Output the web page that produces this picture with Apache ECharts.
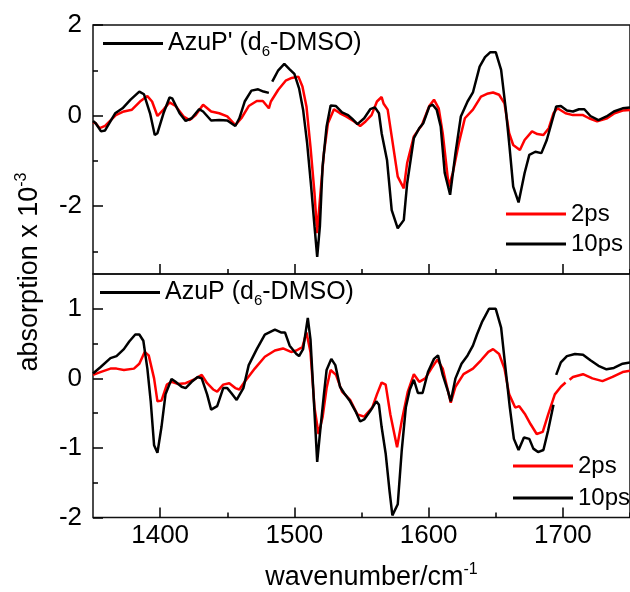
<!DOCTYPE html>
<html>
<head>
<meta charset="utf-8">
<script src="https://cdn.jsdelivr.net/npm/echarts@6/dist/echarts.min.js"></script>
<style>
html,body{margin:0;padding:0;background:#fff;}
#c{width:630px;height:592px;}
</style>
</head>
<body>
<div id="c"></div>
<script>
// ---- data (wavenumber, absorption x 1e-3) ----
const top2ps = [
[1350,-0.15],[1352,-0.17],[1355,-0.28],[1359,-0.23],[1367,0.01],[1373,0.09],[1379,0.13],[1385,0.31],[1390.5,0.43],[1394,0.31],
[1398,-0.01],[1402.5,0.13],[1407,0.29],[1411.5,0.21],[1417.5,-0.02],[1422,-0.10],[1426.5,0.01],[1432,0.24],[1438,0.09],[1444,0.05],
[1450,-0.02],[1456,-0.21],[1460.5,-0.06],[1466,0.21],[1472,0.32],[1476.5,0.32],[1481,0.16],[1482.5,0.31],[1488,0.57],[1493.5,0.77],
[1498,0.83],[1503,0.86],[1506,0.64],[1509,0.20],[1512,-0.69],[1515,-1.72],[1517,-2.6],[1519,-1.86],[1522,-0.83],[1525,-0.17],
[1529.5,0.14],[1534,0.05],[1538.5,-0.02],[1544.5,-0.13],[1549,-0.23],[1553,-0.13],[1557.5,0.01],[1561.5,0.31],[1565,0.41],[1566.5,0.26],
[1569.5,0.13],[1572.5,-0.46],[1577,-1.35],[1581.5,-1.61],[1584,-1.05],[1589,-0.46],[1595,-0.21],[1600.5,0.21],[1604,0.35],[1607.5,0.16],
[1610.5,-0.39],[1615,-1.57],[1618,-1.27],[1622.5,-0.61],[1627,-0.06],[1633,0.13],[1639,0.42],[1643.5,0.48],[1648,0.51],[1652.5,0.46],
[1656.5,0.27],[1660,-0.39],[1663,-0.65],[1668,-0.76],[1671.5,-0.54],[1677,-0.35],[1681,-0.41],[1685.5,-0.43],[1689.5,-0.28],[1693,0.05],
[1696,0.16],[1702,0.05],[1707.5,0.01],[1715,0.01],[1719.5,-0.06],[1725.5,-0.13],[1733,-0.06],[1738.5,0.05],[1744.5,0.11],[1750,0.12]
];
const top10ps = [
[1350,-0.12],[1352,-0.17],[1356,-0.35],[1359,-0.33],[1366.5,0.05],[1372,0.16],[1378,0.35],[1384.5,0.53],[1388,0.47],[1392.5,0.05],
[1396,-0.43],[1398,-0.39],[1402.5,0.05],[1407,0.40],[1409,0.38],[1414.5,0.05],[1419,-0.12],[1423.5,-0.06],[1429,0.14],[1432,0.09],
[1438,-0.11],[1444,-0.10],[1450,-0.11],[1456,-0.23],[1459,-0.06],[1463,0.31],[1468,0.55],[1473,0.58],[1477,0.53],[1481,0.50],
[1482,'-'],[1483.5,0.75],[1488,1.0],[1492.5,1.14],[1496.5,1.02],[1500,0.92],[1503.5,0.60],[1506.5,0.13],[1509.5,-0.61],[1512.5,-1.57],
[1515,-2.45],[1517,-3.12],[1519,-2.45],[1521,-1.13],[1524,-0.24],[1527,0.22],[1531,0.21],[1535.5,0.07],[1540,0.01],[1543,-0.07],
[1547,-0.19],[1552,-0.06],[1556.5,0.14],[1560,0.18],[1563,0.05],[1565,-0.39],[1569,-0.98],[1572.5,-2.09],[1577,-2.49],[1581.5,-2.31],
[1584,-1.50],[1589,-0.50],[1593,-0.28],[1596,-0.17],[1600.5,0.20],[1603,0.24],[1606,0.13],[1609,-0.24],[1612,-1.27],[1616,-1.75],
[1620,-0.83],[1624,-0.02],[1629,0.31],[1633,0.51],[1638,1.08],[1642,1.29],[1646,1.40],[1650,1.40],[1654,1.01],[1657.5,0.13],
[1660,-0.61],[1663,-1.57],[1667,-1.92],[1671.5,-1.27],[1675,-0.87],[1679.5,-0.80],[1684,-0.83],[1688,-0.54],[1691.5,-0.17],[1695,0.20],
[1698.5,0.21],[1703,0.11],[1707.5,0.09],[1712,0.14],[1716,0.14],[1720.5,-0.01],[1726.5,-0.10],[1732.5,-0.02],[1738,0.09],[1744.5,0.16],[1750,0.18]
];
const bot2ps = [
[1350,0.05],[1355.5,0.09],[1363,0.14],[1367.5,0.14],[1373,0.12],[1380.5,0.14],[1384.5,0.21],[1388.5,0.38],[1391.5,0.33],[1395.5,0.0],
[1398,-0.33],[1401,-0.32],[1405,-0.09],[1408.5,-0.05],[1413,-0.08],[1419,-0.07],[1425,-0.02],[1431,0.05],[1435,-0.07],[1439.5,-0.16],
[1442.5,-0.19],[1447,-0.09],[1451.5,-0.07],[1456,-0.14],[1459,-0.16],[1463,-0.05],[1470.5,0.14],[1478,0.31],[1485.5,0.40],[1491.5,0.43],
[1497.5,0.38],[1501.5,0.40],[1506,0.45],[1509,0.66],[1512,0.38],[1515,-0.42],[1518,-0.80],[1521,-0.56],[1524,-0.14],[1527,0.12],
[1531,0.05],[1535.5,-0.19],[1541.5,-0.31],[1547,-0.52],[1552,-0.55],[1558,-0.42],[1561.5,-0.23],[1565,-0.06],[1568,-0.09],[1571.5,-0.52],
[1576.5,-0.99],[1580,-0.61],[1584.5,-0.19],[1589,0.06],[1593,-0.05],[1597.5,0.0],[1602,0.14],[1606.5,0.27],[1610.5,0.14],[1616.5,-0.35],
[1620,-0.12],[1626,0.06],[1633,0.14],[1639,0.26],[1644.5,0.38],[1648,0.42],[1652.5,0.35],[1656.5,0.14],[1660,-0.23],[1664.5,-0.42],
[1667.5,-0.40],[1672,-0.52],[1676,-0.66],[1680.5,-0.80],[1685,-0.77],[1689,-0.52],[1694,-0.23],[1698.5,-0.12],[1702,-0.06],[1703.5,'-'],
[1705,-0.02],[1707.5,0.02],[1715,0.06],[1722,0.0],[1729.5,-0.04],[1737,0.02],[1744.5,0.09],[1750,0.11]
];
const bot10ps = [
[1350,0.07],[1355.5,0.16],[1363,0.29],[1367.5,0.32],[1373,0.42],[1377,0.53],[1381.5,0.63],[1384.5,0.63],[1387.5,0.54],[1390.5,0.14],
[1393,-0.33],[1395.5,-0.96],[1398,-1.07],[1401,-0.70],[1404,-0.23],[1408.5,-0.01],[1411.5,-0.05],[1416,-0.12],[1419,-0.14],[1423.5,-0.05],
[1428,0.02],[1431,0.0],[1435,-0.23],[1438,-0.45],[1442.5,-0.40],[1447,-0.14],[1450,-0.14],[1453,-0.21],[1457,-0.31],[1462,-0.14],
[1466,0.19],[1472,0.42],[1478,0.63],[1485.5,0.70],[1490,0.66],[1493,0.66],[1496.5,0.47],[1501.5,0.35],[1503.5,0.32],[1506.5,0.42],
[1510,0.87],[1512,0.56],[1514,-0.14],[1517,-1.20],[1519,-0.80],[1522,-0.23],[1524,0.12],[1527.5,0.28],[1530.5,0.19],[1534,-0.12],
[1537,-0.21],[1541.5,-0.33],[1546,-0.49],[1549,-0.62],[1552,-0.59],[1556.5,-0.47],[1561,-0.33],[1563,-0.38],[1565,-0.70],[1568,-1.08],
[1571,-1.64],[1573,-1.97],[1577,-1.81],[1580,-1.03],[1583,-0.42],[1586,-0.16],[1589,-0.02],[1592,-0.21],[1595.5,-0.21],[1599.5,0.09],
[1604,0.28],[1607,0.33],[1610.5,0.05],[1614.5,-0.19],[1616.5,-0.33],[1620,0.0],[1624.5,0.21],[1629,0.33],[1633,0.47],[1636,0.63],
[1640,0.82],[1642,0.89],[1645,1.0],[1650,1.0],[1654,0.73],[1657,0.19],[1660.5,-0.42],[1663.5,-0.87],[1667,-1.03],[1671,-0.85],
[1675,-0.87],[1678,-1.01],[1681.5,-1.06],[1685.5,-1.03],[1689,-0.75],[1693,-0.38],[1694,'-'],[1695,0.05],[1698.5,0.23],[1703,0.32],
[1709,0.35],[1715,0.34],[1720.5,0.26],[1726.5,0.18],[1732.5,0.13],[1738,0.15],[1744.5,0.21],[1750,0.23]
];
const xMajor = [1400,1500,1600,1700];
const xMinor = [1450,1550,1650,1750];
const yTopMajor = [-2,0,2];
const yTopMinor = [-3,-1,1];
const yBotMajor = [-2,-1,0,1];
const yBotMinor = [-1.5,-0.5,0.5];
const topLabel = "AzuP' (d6-DMSO)";
const botLabel = "AzuP (d6-DMSO)";

// ---- chart ----
const FONT = 'Liberation Sans, Arial, sans-serif';
const RED = '#ff0000', BLK = '#000000';
const chart = echarts.init(document.getElementById('c'), null, {renderer:'canvas'});

function xAx(grid, ticks, len, labels, extra){
  return Object.assign({
    type:'value', gridIndex:grid, min:1350, max:1750, position:'bottom',
    axisLine:{show:false, onZero:false},
    splitLine:{show:false},
    axisTick:{show:true, inside:true, length:len, customValues:ticks, lineStyle:{color:BLK, width:1.5}},
    axisLabel: labels ? {show:true, customValues:labels, fontSize:26, color:BLK, fontFamily:FONT, margin:5,
      formatter:function(v){return String(v);}} : {show:false}
  }, extra||{});
}
function yAx(grid, mn, mx, ticks, len, labels){
  return {
    type:'value', gridIndex:grid, min:mn, max:mx, position:'left',
    axisLine:{show:false, onZero:false},
    splitLine:{show:false},
    axisTick:{show:true, inside:true, length:len, customValues:ticks, lineStyle:{color:BLK, width:1.5}},
    axisLabel: labels ? {show:true, customValues:labels, fontSize:26, color:BLK, fontFamily:FONT, margin:11,
      formatter:function(v){return String(v);}} : {show:false}
  };
}
const richLeg = {
  n:{fontSize:25, fontFamily:FONT, color:BLK, lineHeight:32},
  s:{fontSize:15, fontFamily:FONT, color:BLK, lineHeight:15, verticalAlign:'bottom'}
};
function legFmt(name){
  if(name.indexOf('(d6')>=0){
    const parts = name.split('d6');
    return '{n|'+parts[0]+'d}{s|6}{n|'+parts[1]+'}';
  }
  return name;
}
function line(name, data, color, xi, yi){
  return {name:name, type:'line', data:data, xAxisIndex:xi, yAxisIndex:yi,
    showSymbol:false, symbol:'none', smooth:false, connectNulls:false,
    lineStyle:{color:color, width:2.5}, itemStyle:{color:color}, z:color===RED?2:3};
}

const option = {
  backgroundColor:'#fff',
  animation:false,
  grid:[
    {left:93, top:25, width:545, height:249, show:true, borderColor:'#111', borderWidth:1.5, backgroundColor:'transparent'},
    {left:93, top:274, width:545, height:248, show:true, borderColor:'#111', borderWidth:1.5, backgroundColor:'transparent'}
  ],
  xAxis:[
    xAx(0, xMajor, 10, null),
    xAx(0, xMinor, 5, null),
    xAx(1, xMajor, 10, xMajor, {
      name:'{n|wavenumber/cm}{s|-1}', nameLocation:'middle', nameGap:44,
      nameTextStyle:{padding:[0,0,0,20], rich:{
        n:{fontSize:27, fontFamily:FONT, color:BLK, lineHeight:32},
        s:{fontSize:16, fontFamily:FONT, color:BLK, lineHeight:16, verticalAlign:'top'}
      }}
    }),
    xAx(1, xMinor, 5, null)
  ],
  yAxis:[
    yAx(0, -3.5, 2, yTopMajor, 10, yTopMajor),
    yAx(0, -3.5, 2, yTopMinor, 5, null),
    yAx(1, -2, 1.5, yBotMajor, 10, yBotMajor),
    yAx(1, -2, 1.5, yBotMinor, 5, null)
  ],
  legend:[
    {data:[topLabel], left:98, top:26, orient:'horizontal', itemWidth:60, itemHeight:3, icon:'rect',
      formatter:legFmt, textStyle:{rich:richLeg}, selectedMode:false},
    {data:[botLabel], left:95, top:275, orient:'horizontal', itemWidth:60, itemHeight:3, icon:'rect',
      formatter:legFmt, textStyle:{rich:richLeg}, selectedMode:false},
    {data:['2ps','10ps'], left:501, top:195, orient:'vertical', itemWidth:60, itemHeight:3, icon:'rect', itemGap:2,
      textStyle:{fontSize:24, fontFamily:FONT, color:BLK, lineHeight:28}, selectedMode:false},
    {data:['2ps','10ps'], left:508, top:447, orient:'vertical', itemWidth:60, itemHeight:3, icon:'rect', itemGap:4,
      textStyle:{fontSize:24, fontFamily:FONT, color:BLK, lineHeight:28}, selectedMode:false}
  ],
  graphic:[
    {type:'text', x:30, y:272, rotation:Math.PI/2, silent:true,
      style:{text:'{n|absorption x 10}{s|-3}', align:'center', verticalAlign:'middle',
        rich:{
          n:{fontSize:27, fontFamily:FONT, fill:BLK, lineHeight:32},
          s:{fontSize:16, fontFamily:FONT, fill:BLK, lineHeight:16, verticalAlign:'top'}
        }}}
  ],
  series:[
    line(topLabel, [], BLK, 0, 0),
    line(botLabel, [], BLK, 2, 2),
    line('2ps', top2ps, RED, 0, 0),
    line('10ps', top10ps, BLK, 0, 0),
    line('2ps', bot2ps, RED, 2, 2),
    line('10ps', bot10ps, BLK, 2, 2)
  ]
};
chart.setOption(option);
</script>
</body>
</html>
